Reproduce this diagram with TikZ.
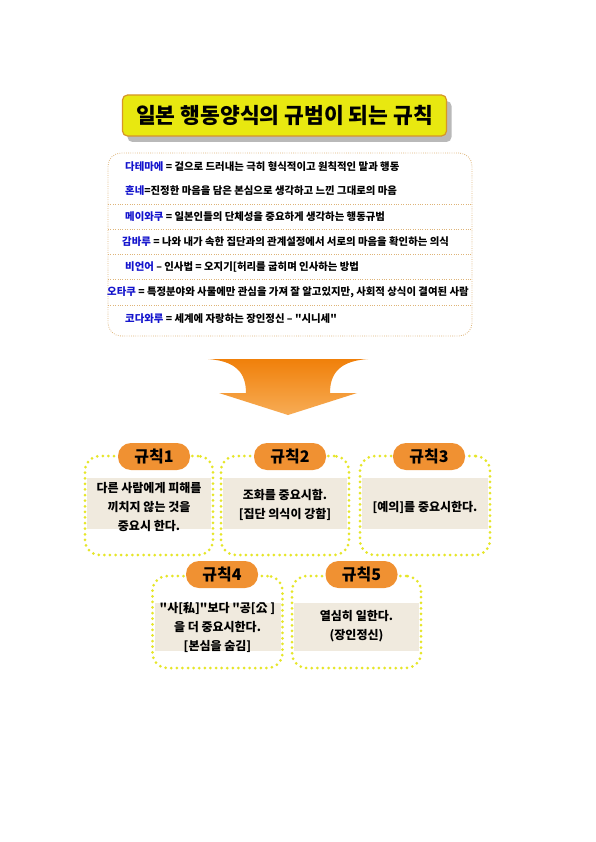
\documentclass[tikz,border=0pt]{standalone}
\usepackage{fontspec}
\setmainfont{Noto Sans CJK KR}
\newfontfamily\kr{Noto Sans CJK KR}
\usetikzlibrary{shadows}
\definecolor{titleyellow}{RGB}{232,232,16}
\definecolor{titleborder}{RGB}{214,150,40}
\definecolor{listborder}{RGB}{222,180,120}
\definecolor{termblue}{RGB}{20,20,205}
\definecolor{pillorange}{RGB}{240,145,50}
\definecolor{dotyellow}{RGB}{230,230,40}
\definecolor{bandcol}{RGB}{240,234,222}
\definecolor{arrowtop}{RGB}{240,128,10}
\definecolor{arrowbot}{RGB}{247,172,85}
\newcommand{\term}[1]{{\color{termblue}#1}}
\begin{document}
\begin{tikzpicture}[x=1pt,y=-1pt,
  titlebox/.style={fill=titleyellow, draw=titleborder, line width=1.2pt, rounded corners=5pt,
    minimum width=324pt, minimum height=41pt, inner sep=0pt,
    font=\kr\fontsize{21.5}{24}\selectfont\bfseries,
    drop shadow={shadow xshift=5pt, shadow yshift=-6pt, fill=gray!55, opacity=1}},
  listbox/.style={draw=listborder, line width=0.8pt, dash pattern=on 0.8pt off 1.4pt,
    rounded corners=13pt, minimum width=364pt, minimum height=183pt, inner sep=0pt},
  sepline/.style={draw=listborder, line width=0.7pt, dash pattern=on 0.8pt off 1.6pt},
  rowtext/.style={anchor=west, inner sep=0pt, font=\kr\fontsize{10.4}{12}\selectfont\bfseries},
  arrowshape/.style={top color=arrowtop, bottom color=arrowbot, draw=none},
  band/.style={fill=bandcol, draw=none, inner sep=0pt},
  rulebox/.style={draw=dotyellow, line width=3pt, dash pattern=on 0pt off 5.6pt, line cap=round,
    rounded corners=15pt, inner sep=0pt},
  pill/.style={fill=pillorange, rounded corners=13pt, minimum width=72pt, minimum height=27pt,
    inner sep=0pt, font=\kr\fontsize{16}{18}\selectfont\bfseries},
  ruletext/.style={align=center, inner sep=0pt, font=\kr\fontsize{12}{19}\selectfont\bfseries}
]
\useasboundingbox[fill=white] (0,0) rectangle (595,842);

% title
\node[titlebox] (title) at (284.5,115.5) {일본 행동양식의 규범이 되는 규칙};

% list
\node[listbox] (list) at (290,244.5) {};
\draw[sepline] (108,204) -- (472,204);
\draw[sepline] (108,229) -- (472,229);
\draw[sepline] (108,254) -- (472,254);
\draw[sepline] (108,279) -- (472,279);
\draw[sepline] (108,305) -- (472,305);
\node[rowtext] (r1) at (125,167) {\term{다테마에} = 겉으로 드러내는 극히 형식적이고 원칙적인 말과 행동};
\node[rowtext] (r2) at (125,191) {\term{혼네}=진정한 마음을 담은 본심으로 생각하고 느낀 그대로의 마음};
\node[rowtext] (r3) at (125,216.5) {\term{메이와쿠} = 일본인들의 단체성을 중요하게 생각하는 행동규범};
\node[rowtext] (r4) at (122,242) {\term{감바루} = 나와 내가 속한 집단과의 관계설정에서 서로의 마음을 확인하는 의식};
\node[rowtext] (r5) at (125,267) {\term{비언어} – 인사법 = 오지기[허리를 굽히며 인사하는 방법};
\node[rowtext] (r6) at (107,292) {\term{오타쿠} = 특정분야와 사물에만 관심을 가져 잘 알고있지만, 사회적 상식이 결여된 사람};
\node[rowtext] (r7) at (125,319) {\term{코다와루} = 세계에 자랑하는 장인정신 – "시니세"};

% arrow
\path[arrowshape] (208,359) -- (368,359)
  .. controls (341,361) and (330,372) .. (330,393)
  -- (357,393) -- (288,415) -- (219,393) -- (246,393)
  .. controls (246,372) and (235,361) .. (208,359) -- cycle;

% bands
\node[band, minimum width=124pt, minimum height=51pt] (b1) at (149,503.5) {};
\node[band, minimum width=124pt, minimum height=51pt] (b2) at (285,503.5) {};
\node[band, minimum width=126pt, minimum height=51pt] (b3) at (425,503.5) {};
\node[band, minimum width=126pt, minimum height=48pt] (b4) at (217.5,627) {};
\node[band, minimum width=125pt, minimum height=48pt] (b5) at (356.5,627) {};

% rule boxes
\node[rulebox, minimum width=128pt, minimum height=99pt] (box1) at (149,505.5) {};
\node[rulebox, minimum width=128pt, minimum height=99pt] (box2) at (285,505.5) {};
\node[rulebox, minimum width=130pt, minimum height=99pt] (box3) at (425,505.5) {};
\node[rulebox, minimum width=130pt, minimum height=92pt] (box4) at (217.5,622) {};
\node[rulebox, minimum width=129pt, minimum height=92pt] (box5) at (356.5,622) {};

% pills
\node[pill] (p1) at (154,456.5) {규칙1};
\node[pill] (p2) at (290,456.5) {규칙2};
\node[pill] (p3) at (429,456.5) {규칙3};
\node[pill] (p4) at (222,574.5) {규칙4};
\node[pill] (p5) at (361.5,574.5) {규칙5};

% texts
\node[ruletext] (t1) at (149,507) {다른 사람에게 피해를\\끼치지 않는 것을\\중요시 한다.};
\node[ruletext] (t2) at (285,505) {조화를 중요시함.\\{}[집단 의식이 강함]};
\node[ruletext] (t3) at (425,507) {[예의]를 중요시한다.};
\node[ruletext] (t4) at (217.5,627) {"사[私]"보다 "공[公 ]\\을 더 중요시한다.\\{}[본심을 숨김]};
\node[ruletext] (t5) at (356.5,626.5) {열심히 일한다.\\(장인정신)};
\end{tikzpicture}
\end{document}
